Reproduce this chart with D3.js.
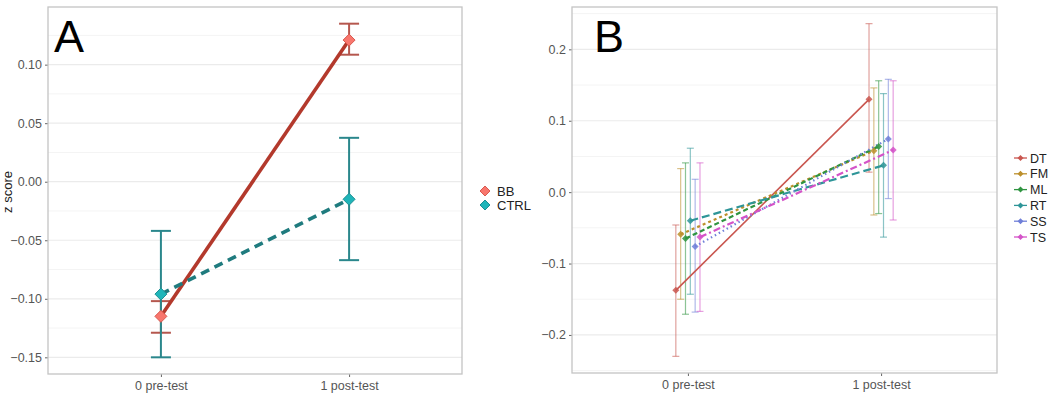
<!DOCTYPE html>
<html>
<head>
<meta charset="utf-8">
<script src="https://cdn.jsdelivr.net/npm/d3@7"></script>
<style>
body { margin: 0; background: #fff; }
text { font-family: "Liberation Sans", Arial, sans-serif; }
</style>
</head>
<body>
<script>
// shared categories
let timepoints = ["0 pre-test", "1 post-test"];

// panel A
let groupsA = ["BB", "CTRL"];
let bbMean = [-0.115, 0.121];
let bbLow = [-0.129, 0.1085];
let bbHigh = [-0.102, 0.135];
let ctrlMean = [-0.096, -0.015];
let ctrlLow = [-0.150, -0.067];
let ctrlHigh = [-0.042, 0.0375];
let ticksA = [-0.15, -0.10, -0.05, 0.00, 0.05, 0.10];

// panel B
let groupsB = ["DT", "FM", "ML", "RT", "SS", "TS"];
let preMeanB = [-0.1375, -0.059, -0.065, -0.040, -0.076, -0.063];
let preLowB = [-0.230, -0.150, -0.171, -0.143, -0.168, -0.167];
let preHighB = [-0.046, 0.033, 0.041, 0.0615, 0.018, 0.041];
let postMeanB = [0.130, 0.058, 0.064, 0.0375, 0.0745, 0.059];
let postLowB = [0.028, -0.032, -0.030, -0.063, -0.009, -0.039];
let postHighB = [0.236, 0.146, 0.156, 0.138, 0.158, 0.156];
let ticksB = [-0.2, -0.1, 0.0, 0.1, 0.2];

function diamond(r){
    return "M0," + (-r) + "L" + r + ",0L0," + r + "L" + (-r) + ",0Z";
}

function expand(lo, hi){
    let pad = (hi - lo) * 0.05;
    return [lo - pad, hi + pad];
}

function drawPanel(svg, box, domain, ticks, fmt){
    let g = svg.append("g");
    let x = d3.scaleLinear().domain([0.4, 2.6]).range([box.left, box.right]);
    let y = d3.scaleLinear().domain(domain).range([box.bottom, box.top]);

    // minor grid at midpoints
    let step = ticks[1] - ticks[0];
    let minor = [];
    for (let i = -1; i < ticks.length; i++) {
        let m = ticks[0] + step * (i + 0.5);
        if (m > domain[0] && m < domain[1]) minor.push(m);
    }
    g.selectAll(".minor").data(minor).enter().append("line")
        .attr("x1", box.left).attr("x2", box.right)
        .attr("y1", d => y(d)).attr("y2", d => y(d))
        .style("stroke", "#F4F4F4").style("stroke-width", 1);
    g.selectAll(".major").data(ticks).enter().append("line")
        .attr("x1", box.left).attr("x2", box.right)
        .attr("y1", d => y(d)).attr("y2", d => y(d))
        .style("stroke", "#EBEBEB").style("stroke-width", 1.2);

    let yAxis = g.append("g")
        .attr("transform", "translate(" + box.left + ",0)")
        .call(d3.axisLeft(y).tickValues(ticks).tickFormat(fmt).tickSize(3).tickPadding(3));
    let xAxis = g.append("g")
        .attr("transform", "translate(0," + box.bottom + ")")
        .call(d3.axisBottom(x).tickValues([1, 2]).tickFormat(d => timepoints[d - 1]).tickSize(3).tickPadding(4));
    [xAxis, yAxis].forEach(a => {
        a.select(".domain").remove();
        a.selectAll(".tick line").style("stroke", "#666");
        a.selectAll(".tick text").style("fill", "#555").style("font-size", "12.5px")
            .style("font-family", "Liberation Sans, Arial, sans-serif");
    });

    let marks = svg.append("g");
    svg.append("rect")
        .attr("x", box.left).attr("y", box.top)
        .attr("width", box.right - box.left).attr("height", box.bottom - box.top)
        .style("fill", "none").style("stroke", "#C4C4C4").style("stroke-width", 1.3);

    return {x: x, y: y, g: marks};
}

function main(){
    let svg = d3.select("body").append("svg")
        .attr("width", 1056)
        .attr("height", 398);

    svg.append("rect").attr("width", 1056).attr("height", 398).style("fill", "#fff");

    // ---------- panel A ----------
    let boxA = {left: 48, right: 462, top: 7, bottom: 374};
    let domA = expand(d3.min(bbLow.concat(ctrlLow)), d3.max(bbHigh.concat(ctrlHigh)));
    let pA = drawPanel(svg, boxA, domA, ticksA, d3.format(".2f"));

    let seriesA = [
        {name: "BB", mean: bbMean, low: bbLow, high: bbHigh,
         line: "#B3392C", bar: "#B5574E", fill: "#F8766D", pt: "#D9594F", dash: null},
        {name: "CTRL", mean: ctrlMean, low: ctrlLow, high: ctrlHigh,
         line: "#1F7B7E", bar: "#2A878C", fill: "#1FB5B9", pt: "#1C8F93", dash: "9,6"}
    ];

    seriesA.forEach(s => {
        s.mean.forEach((m, i) => {
            let cx = pA.x(i + 1);
            let w = 10;
            pA.g.append("line").attr("x1", cx).attr("x2", cx)
                .attr("y1", pA.y(s.low[i])).attr("y2", pA.y(s.high[i]))
                .style("stroke", s.bar).style("stroke-width", 2);
            [s.low[i], s.high[i]].forEach(v => {
                pA.g.append("line").attr("x1", cx - w).attr("x2", cx + w)
                    .attr("y1", pA.y(v)).attr("y2", pA.y(v))
                    .style("stroke", s.bar).style("stroke-width", 2);
            });
        });
    });
    seriesA.forEach(s => {
        pA.g.append("path")
            .datum(s.mean)
            .attr("d", d3.line().x((d, i) => pA.x(i + 1)).y(d => pA.y(d)))
            .style("fill", "none").style("stroke", s.line).style("stroke-width", 3.6)
            .style("stroke-dasharray", s.dash);
    });
    seriesA.forEach(s => {
        s.mean.forEach((m, i) => {
            pA.g.append("path").attr("d", diamond(6))
                .attr("transform", "translate(" + pA.x(i + 1) + "," + pA.y(m) + ")")
                .style("fill", s.fill).style("stroke", s.pt).style("stroke-width", 1);
        });
    });

    svg.append("text").attr("x", 54).attr("y", 52)
        .style("font-size", "45px").style("fill", "#000").text("A");

    svg.append("text")
        .attr("transform", "translate(12,192) rotate(-90)")
        .attr("text-anchor", "middle")
        .style("font-size", "13px").style("fill", "#222").text("z score");

    seriesA.forEach((s, i) => {
        let ly = 191 + i * 14;
        svg.append("path").attr("d", diamond(5))
            .attr("transform", "translate(485," + ly + ")")
            .style("fill", s.fill).style("stroke", s.pt);
        svg.append("text").attr("x", 497).attr("y", ly + 4.5)
            .style("font-size", "13px").style("fill", "#222").text(s.name);
    });

    // ---------- panel B ----------
    let boxB = {left: 572, right: 997, top: 7, bottom: 373};
    let allB = preLowB.concat(postLowB, preHighB, postHighB);
    let domB = expand(d3.min(allB), d3.max(allB));
    let pB = drawPanel(svg, boxB, domB, ticksB, d3.format(".1f"));

    let colorsB = ["#C9564F", "#BC8F2C", "#2F9440", "#2E9598", "#6F7FD8", "#D453C8"];
    let dashesB = [null, "3,3", "5,3", "8,4", "1.5,3", "7,3,2,3"];
    let dodge = 0.025;

    let seriesB = groupsB.map((name, j) => ({
        name: name,
        mean: [preMeanB[j], postMeanB[j]],
        low: [preLowB[j], postLowB[j]],
        high: [preHighB[j], postHighB[j]],
        color: colorsB[j],
        dash: dashesB[j],
        off: (j - 2.5) * dodge
    }));

    seriesB.forEach(s => {
        s.mean.forEach((m, i) => {
            let cx = pB.x(i + 1 + s.off);
            pB.g.append("line").attr("x1", cx).attr("x2", cx)
                .attr("y1", pB.y(s.low[i])).attr("y2", pB.y(s.high[i]))
                .style("stroke", s.color).style("stroke-width", 1.2).style("opacity", 0.55);
            [s.low[i], s.high[i]].forEach(v => {
                pB.g.append("line").attr("x1", cx - 3.5).attr("x2", cx + 3.5)
                    .attr("y1", pB.y(v)).attr("y2", pB.y(v))
                    .style("stroke", s.color).style("stroke-width", 1.2).style("opacity", 0.55);
            });
        });
    });
    seriesB.forEach(s => {
        pB.g.append("path")
            .datum(s.mean)
            .attr("d", d3.line().x((d, i) => pB.x(i + 1 + s.off)).y(d => pB.y(d)))
            .style("fill", "none").style("stroke", s.color)
            .style("stroke-width", s.dash ? 2.2 : 1.6)
            .style("stroke-dasharray", s.dash);
    });
    seriesB.forEach(s => {
        s.mean.forEach((m, i) => {
            pB.g.append("path").attr("d", diamond(3.5))
                .attr("transform", "translate(" + pB.x(i + 1 + s.off) + "," + pB.y(m) + ")")
                .style("fill", s.color).style("opacity", 0.85);
        });
    });

    svg.append("text").attr("x", 594).attr("y", 52)
        .style("font-size", "45px").style("fill", "#000").text("B");

    seriesB.forEach((s, i) => {
        let ly = 158 + i * 15.8;
        svg.append("line").attr("x1", 1014).attr("x2", 1027)
            .attr("y1", ly).attr("y2", ly)
            .style("stroke", s.color).style("stroke-width", 1.3);
        svg.append("path").attr("d", diamond(3))
            .attr("transform", "translate(1020.5," + ly + ")")
            .style("fill", s.color);
        svg.append("text").attr("x", 1030).attr("y", ly + 4.5)
            .style("font-size", "12.5px").style("fill", "#222").text(s.name);
    });
}

main();
</script>
</body>
</html>
